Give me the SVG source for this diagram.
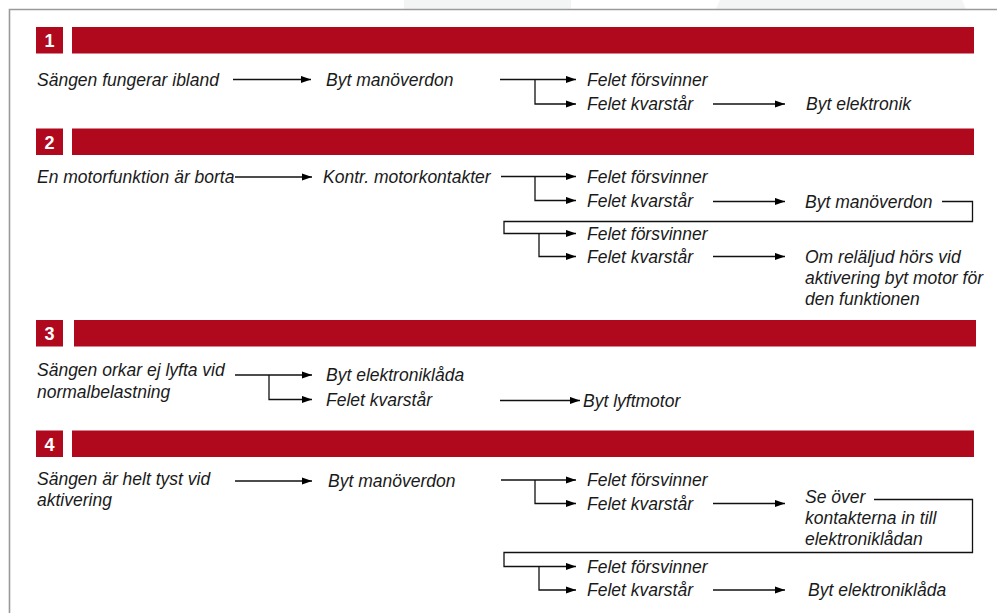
<svg xmlns="http://www.w3.org/2000/svg" width="997" height="613" viewBox="0 0 997 613">
<defs>
<marker id="ah" markerUnits="userSpaceOnUse" markerWidth="11" markerHeight="8" refX="10.5" refY="3.75" orient="auto">
<path d="M0,0 L10.5,3.75 L0,7.5 z" fill="#000"/>
</marker>
<style>
.t{font-family:"Liberation Sans",Arial,sans-serif;font-style:italic;font-size:17.5px;fill:#1a1a1a}
.n{font-family:"Liberation Sans",Arial,sans-serif;font-weight:bold;font-size:18px;fill:#fff;text-anchor:middle}
.red{fill:#B0091D}
.a{fill:none;stroke:#111;stroke-width:1.3;marker-end:url(#ah)}
</style>
</defs>
<rect width="997" height="613" fill="#fff"/>
<g id="frame">
<rect x="404" y="0" width="167" height="9" fill="#f3f5f4"/>
<path d="M720,0 H962 L966,9 H716 Z" fill="#f3f5f4"/>
<path d="M9.5,613 V9.5 H997" fill="none" stroke="#9a9a9a" stroke-width="1.6"/>
</g>
<g id="header1"><rect class="red" x="36" y="27" width="27" height="26.5"/><text class="n" x="49.5" y="47">1</text><rect class="red" x="72" y="27" width="902" height="26.5"/></g>
<g id="header2"><rect class="red" x="36" y="128.5" width="27" height="26.5"/><text class="n" x="49.5" y="148.5">2</text><rect class="red" x="72" y="128.5" width="902" height="26.5"/></g>
<g id="header3"><rect class="red" x="36" y="320" width="27" height="26.5"/><text class="n" x="49.5" y="340">3</text><rect class="red" x="74" y="320" width="902" height="26.5"/></g>
<g id="header4"><rect class="red" x="36" y="430.5" width="27" height="26.5"/><text class="n" x="49.5" y="450.5">4</text><rect class="red" x="72" y="430.5" width="902" height="26.5"/></g>

<g id="s1-start"><text class="t" x="37" y="85.5">Sängen fungerar ibland</text></g>
<g id="s1-byt"><text class="t" x="326" y="85.5">Byt manöverdon</text></g>
<g id="s1-forsvinner"><text class="t" x="587" y="85.5">Felet försvinner</text></g>
<g id="s1-kvarstar"><text class="t" x="587" y="110">Felet kvarstår</text></g>
<g id="s1-elektronik"><text class="t" x="806" y="110">Byt elektronik</text></g>

<g id="s2-start"><text class="t" x="37" y="183">En motorfunktion är borta</text></g>
<g id="s2-kontr"><text class="t" x="323" y="183">Kontr. motorkontakter</text></g>
<g id="s2-forsvinner1"><text class="t" x="587" y="182.5">Felet försvinner</text></g>
<g id="s2-kvarstar1"><text class="t" x="587" y="207">Felet kvarstår</text></g>
<g id="s2-byt"><text class="t" x="805" y="207.5">Byt manöverdon</text></g>
<g id="s2-forsvinner2"><text class="t" x="587" y="239.5">Felet försvinner</text></g>
<g id="s2-kvarstar2"><text class="t" x="587" y="262.5">Felet kvarstår</text></g>
<g id="s2-motor"><text class="t" x="805" y="262.5">Om reläljud hörs vid</text><text class="t" x="805" y="283.5">aktivering byt motor för</text><text class="t" x="805" y="304.5">den funktionen</text></g>

<g id="s3-start"><text class="t" x="37" y="376">Sängen orkar ej lyfta vid</text><text class="t" x="37" y="398">normalbelastning</text></g>
<g id="s3-byt"><text class="t" x="326" y="381">Byt elektroniklåda</text></g>
<g id="s3-kvarstar"><text class="t" x="326" y="405.5">Felet kvarstår</text></g>
<g id="s3-lyftmotor"><text class="t" x="583" y="406.5">Byt lyftmotor</text></g>

<g id="s4-start"><text class="t" x="37" y="485">Sängen är helt tyst vid</text><text class="t" x="37" y="505.5">aktivering</text></g>
<g id="s4-byt"><text class="t" x="328" y="486.5">Byt manöverdon</text></g>
<g id="s4-forsvinner1"><text class="t" x="587" y="486">Felet försvinner</text></g>
<g id="s4-kvarstar1"><text class="t" x="587" y="509.5">Felet kvarstår</text></g>
<g id="s4-seover"><text class="t" x="805" y="503">Se över</text><text class="t" x="805" y="524">kontakterna in till</text><text class="t" x="805" y="545">elektroniklådan</text></g>
<g id="s4-forsvinner2"><text class="t" x="587" y="572.5">Felet försvinner</text></g>
<g id="s4-kvarstar2"><text class="t" x="587" y="596">Felet kvarstår</text></g>
<g id="s4-elektronik"><text class="t" x="808" y="596">Byt elektroniklåda</text></g>

<g id="connectors">
<path class="a" d="M233,79.5 H311"/>
<path class="a" d="M500,79.5 H576"/>
<path class="a" d="M535,79.5 V104 H576"/>
<path class="a" d="M713,104 H785"/>

<path class="a" d="M235,177 H312"/>
<path class="a" d="M501,176.5 H576"/>
<path class="a" d="M535,176.5 V200.5 H576"/>
<path class="a" d="M713,201.5 H785"/>
<path class="a" d="M942,201.5 H972.5 V221.5 H504 V233.5 H576"/>
<path class="a" d="M539,233.5 V256.5 H576"/>
<path class="a" d="M713,256.5 H785"/>

<path class="a" d="M235,375 H312"/>
<path class="a" d="M269,375 V399.5 H312"/>
<path class="a" d="M500,400.5 H580"/>

<path class="a" d="M235,481 H312"/>
<path class="a" d="M501,480 H576"/>
<path class="a" d="M535,480 V503.5 H576"/>
<path class="a" d="M713,503.5 H785"/>
<path class="a" d="M874,499.5 H972.5 V552.5 H504 V566.5 H576"/>
<path class="a" d="M539,566.5 V590 H576"/>
<path class="a" d="M713,590 H785"/>
</g>
</svg>
